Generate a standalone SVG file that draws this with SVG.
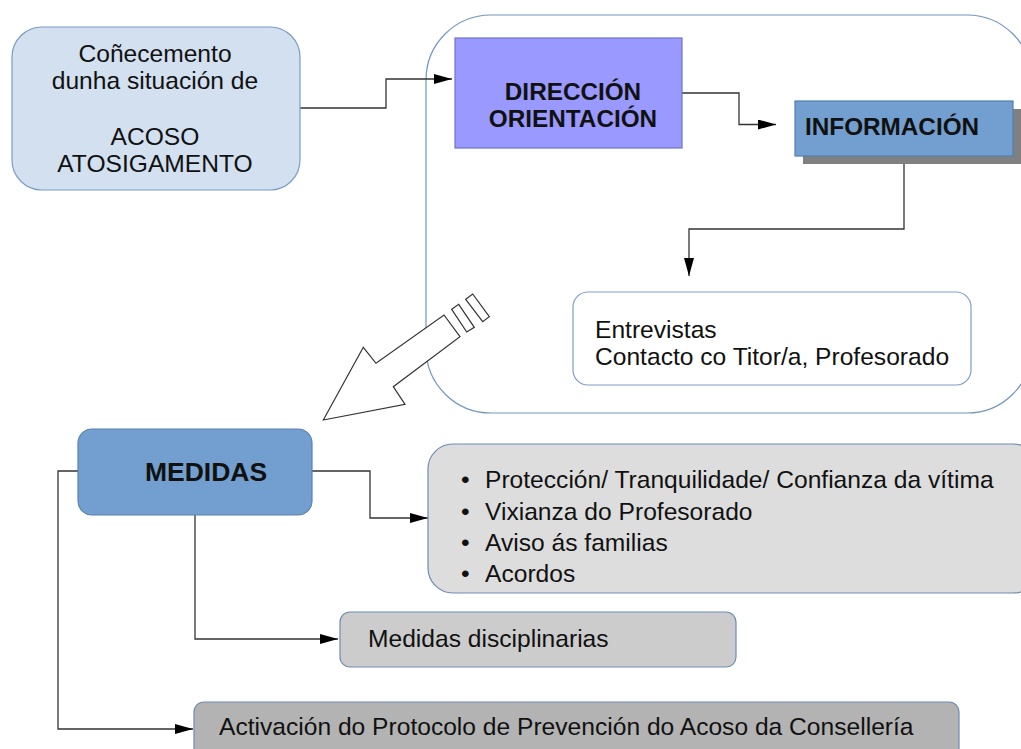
<svg xmlns="http://www.w3.org/2000/svg" width="1021" height="749" viewBox="0 0 1021 749">
<defs>
<style>
text{font-family:"Liberation Sans",Arial,sans-serif;font-size:24.6px;fill:#111}
.b{font-weight:bold;font-size:24.3px}
.c{text-anchor:middle}
.ln{fill:none;stroke:#333;stroke-width:1.3}
</style>
<marker id="ah" viewBox="0 0 18 10" refX="18" refY="5" markerWidth="18" markerHeight="10" markerUnits="userSpaceOnUse" orient="auto">
<path d="M0,0 L18,5 L0,10 Z" fill="#000"/>
</marker>
</defs>
<rect width="1021" height="749" fill="#fff"/>

<g id="container">
<rect x="426" y="15" width="606" height="398" rx="65" ry="65" fill="none" stroke="#7395c3" stroke-width="1.2"/>
</g>

<g id="bigarrow" fill="#fff" stroke="#333" stroke-width="1.2">
<polygon points="323.3,420 363.3,347.3 376,363.3 444,315 460,336.7 393.3,386.7 405,404.3"/>
<polygon points="451.7,309.3 458.7,304.3 474.3,327.3 466.7,332"/>
<polygon points="465.7,299.3 472.7,294 489.3,316.7 482.7,321.7"/>
</g>

<g id="connectors">
<polyline class="ln" points="300,108 386,108 386,79 452,79" marker-end="url(#ah)"/>
<polyline class="ln" points="682,93 739,93 739,124.5 776,124.5" marker-end="url(#ah)"/>
<polyline class="ln" points="904,156 904,229 689,229 689,276" marker-end="url(#ah)"/>
<polyline class="ln" points="312,471 370,471 370,518 428,518" marker-end="url(#ah)"/>
<polyline class="ln" points="195,515 195,639 338,639" marker-end="url(#ah)"/>
<polyline class="ln" points="78,471 58,471 58,729 193,729" marker-end="url(#ah)"/>
</g>

<g id="conecemento">
<rect x="12" y="27" width="288" height="163" rx="30" ry="30" fill="#d2e0f0" stroke="#7b9cc6" stroke-width="1.2"/>
<text class="c" x="155" y="61.5">Coñecemento</text>
<text class="c" x="155" y="88.5">dunha situación de</text>
<text class="c" x="155" y="145">ACOSO</text>
<text class="c" x="155" y="171.5">ATOSIGAMENTO</text>
</g>

<g id="direccion">
<rect x="455" y="38" width="227" height="110" fill="#9999ff" stroke="#6f73c8" stroke-width="1.2"/>
<text class="b c" x="573" y="100">DIRECCIÓN</text>
<text class="b c" x="573" y="126.5">ORIENTACIÓN</text>
</g>

<g id="informacion">
<rect x="803" y="109" width="226" height="55" fill="#808080"/>
<rect x="795" y="101" width="218" height="55" fill="#729fcf" stroke="#4f7fb5" stroke-width="1.2"/>
<text class="b" x="805" y="135">INFORMACIÓN</text>
</g>

<g id="entrevistas">
<rect x="573" y="292" width="398" height="93" rx="15" ry="15" fill="#fff" stroke="#7f9fc8" stroke-width="1.2"/>
<text x="595" y="338">Entrevistas</text>
<text x="595" y="365">Contacto co Titor/a, Profesorado</text>
</g>

<g id="medidas">
<rect x="78" y="429" width="234" height="86" rx="14" ry="14" fill="#729fcf" stroke="#5982b2" stroke-width="1.2"/>
<text class="b c" x="206" y="481" style="font-size:26.5px">MEDIDAS</text>
</g>

<g id="proteccion">
<rect x="428" y="444" width="610" height="149" rx="25" ry="25" fill="#dddddd" stroke="#6e8cb5" stroke-width="1.2"/>
<text x="461" y="488">•</text><text x="485" y="488">Protección/ Tranquilidade/ Confianza da vítima</text>
<text x="461" y="520">•</text><text x="485" y="520">Vixianza do Profesorado</text>
<text x="461" y="551">•</text><text x="485" y="551">Aviso ás familias</text>
<text x="461" y="582">•</text><text x="485" y="582">Acordos</text>
</g>

<g id="disciplinarias">
<rect x="340" y="612" width="396" height="55" rx="10" ry="10" fill="#cccccc" stroke="#6e8cb5" stroke-width="1.2"/>
<text x="368" y="647">Medidas disciplinarias</text>
</g>

<g id="activacion">
<rect x="194" y="702" width="765" height="70" rx="10" ry="10" fill="#b3b3b3" stroke="#6e8cb5" stroke-width="1.2"/>
<text x="219" y="735">Activación do Protocolo de Prevención do Acoso da Consellería</text>
</g>
</svg>
